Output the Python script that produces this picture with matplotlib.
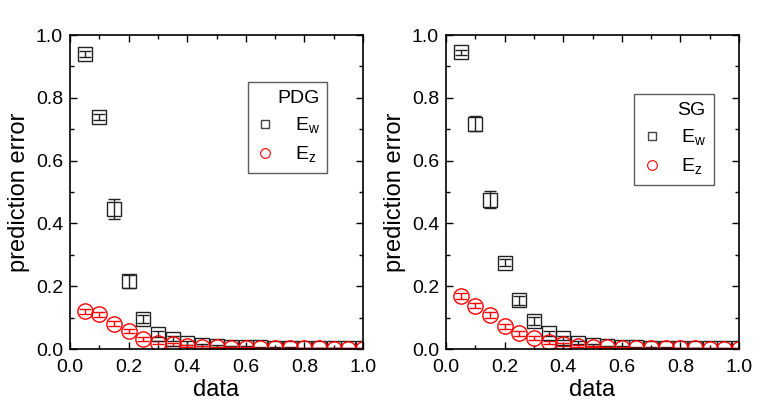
import matplotlib.pyplot as plt
from matplotlib.ticker import MultipleLocator

plt.rcParams['font.family'] = ['Liberation Sans', 'DejaVu Sans']
plt.rcParams['mathtext.fontset'] = 'custom'
plt.rcParams['mathtext.rm'] = 'Liberation Sans'

x = [0.05, 0.10, 0.15, 0.20, 0.25, 0.30, 0.35, 0.40, 0.45, 0.50,
     0.55, 0.60, 0.65, 0.70, 0.75, 0.80, 0.85, 0.90, 0.95, 1.00]

# PDG
pdg_w = [0.940, 0.740, 0.445, 0.215, 0.095, 0.048, 0.033, 0.020, 0.012, 0.009,
         0.007, 0.006, 0.005, 0.004, 0.004, 0.003, 0.003, 0.003, 0.002, 0.002]
pdg_w_err = [0.010, 0.010, 0.032, 0.022, 0.012, 0.010, 0.008, 0.006, 0.004, 0.003,
             0.003, 0.002, 0.002, 0.002, 0.002, 0.001, 0.001, 0.001, 0.001, 0.001]
pdg_z = [0.120, 0.110, 0.080, 0.057, 0.032, 0.020, 0.015, 0.010, 0.006, 0.005,
         0.004, 0.003, 0.003, 0.002, 0.002, 0.002, 0.002, 0.001, 0.001, 0.001]
pdg_z_err = [0.008, 0.008, 0.008, 0.007, 0.006, 0.005, 0.004, 0.003, 0.003, 0.002,
             0.002, 0.002, 0.001, 0.001, 0.001, 0.001, 0.001, 0.001, 0.001, 0.001]

# SG
sg_w = [0.945, 0.718, 0.475, 0.275, 0.155, 0.090, 0.050, 0.035, 0.020, 0.013,
        0.009, 0.007, 0.005, 0.004, 0.004, 0.003, 0.003, 0.002, 0.002, 0.002]
sg_w_err = [0.008, 0.025, 0.027, 0.012, 0.015, 0.013, 0.008, 0.006, 0.004, 0.003,
            0.002, 0.002, 0.002, 0.002, 0.001, 0.001, 0.001, 0.001, 0.001, 0.001]
sg_z = [0.168, 0.138, 0.108, 0.072, 0.050, 0.035, 0.022, 0.015, 0.010, 0.007,
        0.005, 0.004, 0.003, 0.003, 0.002, 0.002, 0.002, 0.001, 0.001, 0.001]
sg_z_err = [0.009, 0.009, 0.009, 0.008, 0.007, 0.006, 0.005, 0.004, 0.003, 0.002,
            0.002, 0.002, 0.001, 0.001, 0.001, 0.001, 0.001, 0.001, 0.001, 0.001]

fig = plt.figure(figsize=(7.73, 4.07), dpi=100)
ax1 = fig.add_axes([0.0906, 0.1425, 0.379, 0.7715])
ax2 = fig.add_axes([0.577, 0.1425, 0.379, 0.7715])


def draw(ax, w, w_err, z, z_err, title, legend_pos):
    ax.errorbar(x, w, yerr=w_err, fmt='s', color='#222222', mfc='none',
                ms=10, mew=1.0, elinewidth=1.0, capsize=4, capthick=1.0)
    ax.errorbar(x, z, yerr=z_err, fmt='o', color='red', mfc='none',
                ms=11, mew=1.0, elinewidth=1.0, capsize=4, capthick=1.0)
    h1, = ax.plot([], [], 's', color='#444444', mfc='none', ms=6, mew=1.0)
    h2, = ax.plot([], [], 'o', color='red', mfc='none', ms=7, mew=0.8)
    leg = ax.legend([h1, h2], [r'E$_\mathregular{w}$', r'E$_\mathregular{z}$'],
                    title=title, loc='upper left', bbox_to_anchor=legend_pos,
                    frameon=True, fancybox=False, edgecolor='#333333',
                    fontsize=14, title_fontsize=14, handlelength=1.0,
                    handletextpad=1.0, borderpad=0.4, labelspacing=0.45,
                    borderaxespad=0.0)
    leg._legend_box.align = 'right'
    leg.get_frame().set_linewidth(1.0)
    ax.set_xlim(0, 1.0)
    ax.set_ylim(0, 1.0)
    ax.xaxis.set_major_locator(MultipleLocator(0.2))
    ax.xaxis.set_minor_locator(MultipleLocator(0.1))
    ax.yaxis.set_major_locator(MultipleLocator(0.2))
    ax.yaxis.set_minor_locator(MultipleLocator(0.1))
    ax.tick_params(which='both', direction='in', top=True, right=True,
                   labelsize=14, width=1.0)
    ax.tick_params(which='major', length=5)
    ax.tick_params(axis='x', which='major', pad=7)
    ax.tick_params(axis='y', which='major', pad=5)
    ax.tick_params(which='minor', length=3)
    ax.set_xlabel('data', fontsize=17, labelpad=2)
    ax.set_ylabel('prediction error', fontsize=17, labelpad=4)
    for s in ax.spines.values():
        s.set_linewidth(1.2)


draw(ax1, pdg_w, pdg_w_err, pdg_z, pdg_z_err, 'PDG', (0.607, 0.85))
draw(ax2, sg_w, sg_w_err, sg_z, sg_z_err, 'SG', (0.642, 0.812))

fig.savefig('out.png', dpi=100)
